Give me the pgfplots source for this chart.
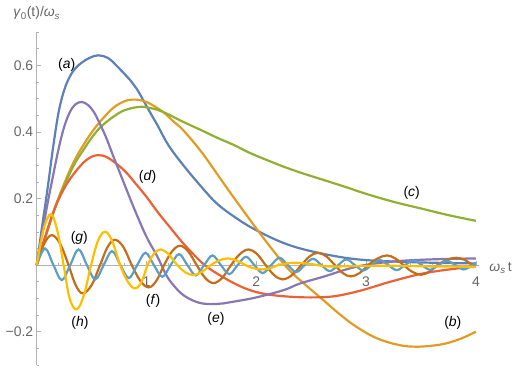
\documentclass[border=0pt]{standalone}
\usepackage{fontspec}
\setmainfont{Liberation Sans}
\usepackage{pgfplots}
\pgfplotsset{compat=1.18}
% Mathematica 97 default palette
\definecolor{mA}{rgb}{0.368417,0.506779,0.709798}
\definecolor{mB}{rgb}{0.880722,0.611041,0.142051}
\definecolor{mC}{rgb}{0.560181,0.691569,0.194885}
\definecolor{mD}{rgb}{0.922526,0.385626,0.209179}
\definecolor{mE}{rgb}{0.528488,0.470624,0.701351}
\definecolor{mF}{rgb}{0.772079,0.431554,0.102387}
\definecolor{mG}{rgb}{0.363898,0.618501,0.782349}
\definecolor{mH}{rgb}{1,0.75,0}
\newcommand\lbl{\fontsize{14}{16}\selectfont}
\pgfplotsset{cv/.style={line width=2.2bp, smooth, tension=0.6}}
\begin{document}
\begin{tikzpicture}
\begin{axis}[
    scale only axis, width=442.5bp, height=333bp,
    xmin=0, xmax=4.03, ymin=-0.3, ymax=0.7,
    axis x line=middle, axis y line=left,
    axis line style={-, draw=black!30, line width=0.6bp},
    tick align=inside,
    xtick={1,2,3,4}, xticklabels={1,2,3,4},
    ytick={-0.2,0.2,0.4,0.6}, yticklabels={−0.2,0.2,0.4,0.6},
    minor xtick={0.2,0.4,0.6,0.8,1.2,1.4,1.6,1.8,2.2,2.4,2.6,2.8,3.2,3.4,3.6,3.8},
    minor ytick={-0.3,-0.25,-0.15,-0.1,-0.05,0.05,0.1,0.15,0.25,0.3,0.35,0.45,0.5,0.55,0.65,0.7},
    major tick length=4.5bp, minor tick length=2.5bp,
    tick style={draw=black!30, line width=0.6bp},
    ticklabel style={font=\lbl, text=black!60},
    xticklabel style={yshift=-8bp},
    clip=false,
]
% (a)
\addplot[mA, cv] coordinates {
(0,0)(0.05,0.118)(0.1,0.232)(0.15,0.355)(0.2,0.46)(0.25,0.525)(0.3,0.565)(0.35,0.59)
(0.41,0.608)(0.48,0.622)(0.56,0.63)(0.65,0.622)(0.73,0.598)(0.85,0.556)(0.91,0.53)
(1.03,0.46)(1.1,0.42)(1.2,0.36)(1.335,0.3)(1.5,0.235)(1.64,0.185)(1.8,0.145)(1.97,0.11)
(2.2,0.073)(2.4,0.05)(2.7,0.028)(3.0,0.015)(3.5,0.008)(4,0.005)
};
% (b)
\addplot[mB, cv] coordinates {
(0,0)(0.05,0.053)(0.1,0.106)(0.15,0.157)(0.2,0.203)(0.28,0.268)(0.35,0.318)(0.43,0.363)
(0.5,0.398)(0.583,0.433)(0.7,0.473)(0.8,0.492)(0.87,0.497)(0.95,0.495)(1.03,0.485)
(1.15,0.46)(1.25,0.43)(1.335,0.405)(1.5,0.34)(1.64,0.275)(1.79,0.205)(2.0,0.11)
(2.15,0.045)(2.3,-0.015)(2.45,-0.06)(2.61,-0.105)(2.75,-0.145)(2.91,-0.185)(3.1,-0.22)
(3.3,-0.24)(3.45,-0.245)(3.6,-0.242)(3.73,-0.235)(3.87,-0.22)(4,-0.2)
};
% (c)
\addplot[mC, cv] coordinates {
(0,0)(0.05,0.053)(0.1,0.105)(0.15,0.155)(0.2,0.2)(0.28,0.26)(0.35,0.307)(0.43,0.348)
(0.5,0.382)(0.583,0.415)(0.7,0.446)(0.8,0.465)(0.93,0.475)(1.03,0.472)(1.15,0.46)
(1.335,0.43)(1.5,0.405)(1.64,0.383)(1.8,0.36)(1.94,0.337)(2.1,0.315)(2.245,0.296)
(2.4,0.278)(2.58,0.259)(2.8,0.236)(3.0,0.214)(3.25,0.19)(3.5,0.17)(3.75,0.15)(4,0.133)
};
% (d)
\addplot[mD, cv] coordinates {
(0,0)(0.067,0.075)(0.158,0.165)(0.25,0.23)(0.34,0.275)(0.45,0.315)(0.55,0.33)(0.65,0.322)
(0.795,0.285)(0.9,0.245)(1.0,0.205)(1.1,0.16)(1.21,0.115)(1.335,0.065)(1.45,0.025)
(1.53,0)(1.64,-0.025)(1.8,-0.055)(1.94,-0.075)(2.1,-0.088)(2.31,-0.095)(2.5,-0.097)
(2.7,-0.094)(2.91,-0.08)(3.1,-0.062)(3.22,-0.05)(3.52,-0.025)(3.83,-0.01)(4,-0.005)
};
% (e)
\addplot[mE, cv] coordinates {
(0,0)(0.05,0.095)(0.1,0.187)(0.15,0.27)(0.2,0.35)(0.25,0.415)(0.3,0.458)(0.35,0.482)
(0.41,0.49)(0.47,0.48)(0.52,0.46)(0.56,0.435)(0.63,0.385)(0.7,0.325)(0.76,0.275)
(0.82,0.225)(0.9,0.16)(1.0,0.085)(1.1,0.025)(1.18,-0.03)(1.25,-0.062)(1.335,-0.09)
(1.45,-0.11)(1.56,-0.117)(1.7,-0.115)(1.79,-0.11)(2.0,-0.097)(2.25,-0.075)(2.4,-0.055)
(2.61,-0.035)(2.91,-0.005)(3.22,0.01)(3.58,0.017)(4,0.02)
};
% (f)
\addplot[mF, cv] coordinates {
(0,0)(0.065,0.062)(0.137,0.09)(0.215,0.063)(0.29,0)(0.355,-0.06)(0.42,-0.085)(0.5,-0.06)
(0.577,0)(0.645,0.054)(0.713,0.076)(0.79,0.054)(0.866,0)(0.943,-0.047)(1.02,-0.067)
(1.09,-0.047)(1.16,0)(1.232,0.041)(1.305,0.058)(1.38,0.041)(1.457,0)(1.533,-0.038)
(1.61,-0.054)(1.69,-0.038)(1.77,0)(1.85,0.033)(1.93,0.047)(2.007,0.033)(2.085,0)
(2.162,-0.03)(2.24,-0.043)(2.325,-0.03)(2.41,0)(2.485,0.026)(2.56,0.037)(2.638,0.026)
(2.715,0)(2.788,-0.024)(2.86,-0.034)(2.94,-0.024)(3.02,0)(3.105,0.02)(3.19,0.029)
(3.265,0.02)(3.34,0)(3.42,-0.02)(3.5,-0.029)(3.575,-0.02)(3.65,0)(3.735,0.016)
(3.82,0.022)(3.895,0.016)(3.97,0)(4,-0.003)
};
% (g)
\addplot[mG, cv] coordinates {
(0,0)(0.076,0.05)(0.1525,0)(0.229,-0.045)(0.305,0)(0.381,0.047)(0.4575,0)(0.534,-0.043)
(0.61,0)(0.686,0.042)(0.7625,0)(0.839,-0.039)(0.915,0)(0.991,0.037)(1.0675,0)
(1.144,-0.035)(1.22,0)(1.296,0.033)(1.3725,0)(1.449,-0.031)(1.525,0)(1.601,0.029)
(1.6775,0)(1.754,-0.027)(1.83,0)(1.906,0.025)(1.9825,0)(2.059,-0.024)(2.135,0)
(2.211,0.022)(2.2875,0)(2.364,-0.021)(2.44,0)(2.516,0.019)(2.5925,0)(2.669,-0.018)
(2.745,0)(2.821,0.017)(2.8975,0)(2.974,-0.016)(3.05,0)(3.126,0.015)(3.2025,0)
(3.279,-0.015)(3.355,0)(3.431,0.014)(3.5075,0)(3.584,-0.014)(3.66,0)(3.736,0.013)
(3.8125,0)(3.889,-0.013)(3.965,0)(4,0.006)
};
% (h)
\addplot[mH, cv] coordinates {
(0,0)(0.065,0.11)(0.13,0.153)(0.19,0.1)(0.245,0)(0.3,-0.1)(0.364,-0.133)(0.43,-0.09)
(0.495,0)(0.56,0.075)(0.625,0.1)(0.69,0.07)(0.76,0)(0.83,-0.05)(0.895,-0.07)(0.955,-0.05)
(1.01,0)(1.07,0.035)(1.13,0.047)(1.2,0.033)(1.28,0)(1.355,-0.022)(1.43,-0.03)(1.505,-0.02)
(1.585,0)(1.66,0.014)(1.74,0.02)(1.82,0.014)(1.9,0)(1.97,-0.009)(2.05,-0.013)(2.13,-0.009)
(2.2,0)(2.28,0.005)(2.36,0.007)(2.5,0.003)(2.65,-0.004)(2.9,-0.003)(3.2,-0.002)
(3.6,-0.004)(4,-0.005)
};
\begin{scope}[font=\lbl]
\node at (axis cs:0.273,0.6) {(\textit{a})};
\node at (axis cs:3.79,-0.173) {(\textit{b})};
\node at (axis cs:3.415,0.218) {(\textit{c})};
\node at (axis cs:1.01,0.265) {(\textit{d})};
\node at (axis cs:1.633,-0.163) {(\textit{e})};
\node at (axis cs:1.06,-0.108) {(\textit{f})};
\node at (axis cs:0.388,0.083) {(\textit{g})};
\node at (axis cs:0.394,-0.175) {(\textit{h})};
\node[anchor=west, inner sep=0pt, text=black!60] at (axis cs:4.03,0) [xshift=10bp, yshift=-3bp]
  {\textit{ω}\textsubscript{\textit{s}}\,t};
\node[anchor=south, inner sep=0pt, text=black!60] at (axis cs:0,0.7) [yshift=12bp]
  {\textit{γ}\textsubscript{0}(t)/\textit{ω}\textsubscript{\textit{s}}};
\end{scope}
\end{axis}
\pgfresetboundingbox
\path[use as bounding box] (-36.7bp,-3bp) rectangle (494.3bp,365bp);
\end{tikzpicture}
\end{document}
